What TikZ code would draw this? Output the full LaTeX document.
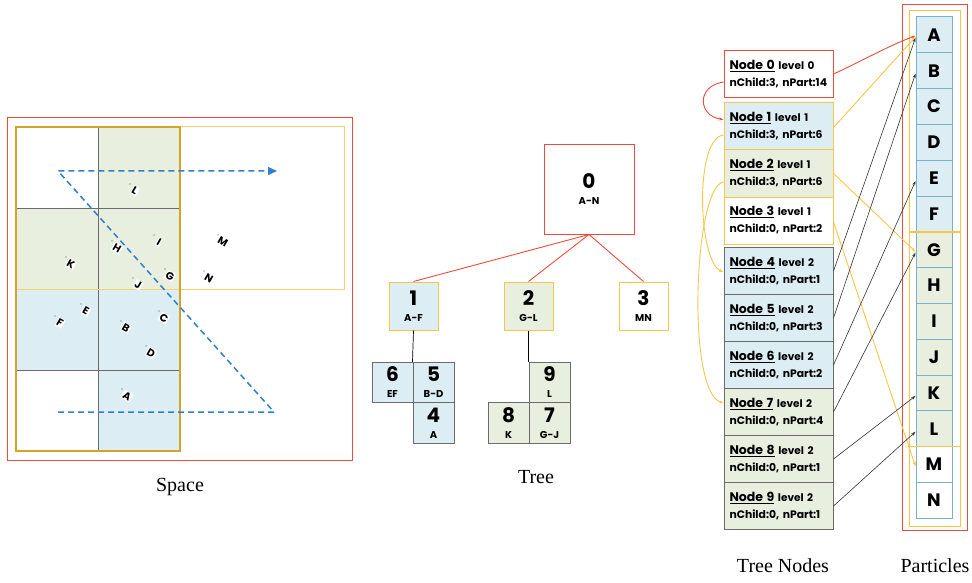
\documentclass[tikz,border=0pt]{standalone}
\usepackage{fontspec}
\newfontfamily\gfont{Poppins}
\newfontfamily\capfont{Liberation Serif}
\usetikzlibrary{arrows.meta}
\definecolor{RedL}{HTML}{EE4B3B}
\definecolor{YelL}{HTML}{F7C548}
\definecolor{GoldD}{HTML}{D4A32A}
\definecolor{BlueF}{HTML}{DCEDF3}
\definecolor{GreenF}{HTML}{E9EFDF}
\definecolor{GreyB}{HTML}{6B6B6B}
\definecolor{TealB}{HTML}{7DB0C2}
\definecolor{DashB}{HTML}{2F80C8}
\newcommand\tnLabel[4]{\mbox{{\fontsize{12.5}{17}\selectfont\underline{Node #1}} {\fontsize{10.5}{17}\selectfont level #2}}\\\mbox{nChild:#3, nPart:#4}}
\newcommand\trLabel[2]{{\fontsize{20}{16}\selectfont #1}\\#2}
\begin{document}
\begin{tikzpicture}[x=1pt,y=-1pt,
  tbox/.style={draw, line width=1pt, inner sep=0pt, align=center,
    font=\gfont\bfseries\fontsize{10}{16}\selectfont},
  tsmall/.style={tbox, draw=GreyB, minimum width=41pt, minimum height=40.5pt},
  nbox/.style={draw, line width=1pt, inner sep=0pt, minimum width=109pt, minimum height=47pt,
    text width=98pt, align=left, font=\gfont\bfseries\fontsize{10.8}{17}\selectfont},
  pbox/.style={draw=TealB, line width=1pt, inner sep=0pt, minimum width=36pt, minimum height=35.8pt,
    font=\gfont\bfseries\fontsize{18}{18}\selectfont},
  sl/.style={fill=white, inner sep=0.8pt, rotate=-30, font=\gfont\bfseries\fontsize{10.5}{10.5}\selectfont},
  captxt/.style={font=\capfont\fontsize{20}{20}\selectfont},
  blkarr/.style={draw=black!80, line width=0.6pt, -{Stealth[length=4.5pt,width=3pt]}},
  yelarr/.style={draw=YelL, line width=0.9pt, -{Stealth[length=4.5pt,width=3pt]}},
  redarr/.style={draw=RedL, line width=0.9pt, -{Stealth[length=4.5pt,width=3pt]}},
]
\useasboundingbox (0,0) rectangle (972,583);

% ---------------- Space ----------------
\fill[GreenF] (98,127) rectangle (180,208);
\fill[GreenF] (16,208) rectangle (180,289);
\fill[BlueF] (16,289) rectangle (180,370);
\fill[BlueF] (98,370) rectangle (180,451);
\draw[GreyB, line width=1pt] (98,127) -- (98,451);
\draw[GreyB, line width=1pt] (16,208) -- (180,208) (16,289) -- (180,289) (16,370) -- (180,370);
\draw[YelL!80, line width=1pt] (16,127) rectangle (344,289);
\draw[GoldD, line width=1.2pt] (16,127) rectangle (180,451);
\draw[RedL, line width=1pt] (7,118) rectangle (352,460);
\draw[DashB, line width=1.5pt, dash pattern=on 6pt off 4pt, -{Triangle[length=9pt,width=8pt]}]
  (58,412) -- (274,412) -- (58,171) -- (277,171);
\foreach \n/\x/\y in {L/135/191, H/117/248, I/159/242, M/223/242, K/71/264, G/170/276,
  N/209/278, J/138/285, E/86/311, F/60/323, C/164/318, B/126/328, D/151/353, A/127/396} {
  \node[sl] (s\n) at (\x,\y) {\n};
  \fill[black!70] (\x-5,\y-7) circle (0.6);
}
\node[captxt] (capS) at (180,487) {Space};

% ---------------- Tree ----------------
\node[tbox, draw=RedL, minimum width=90pt, minimum height=89pt] (t0) at (589,189.5) {\trLabel{0}{A-N}};
\node[tbox, draw=YelL, fill=BlueF, minimum width=49pt, minimum height=48pt] (t1) at (413.5,306) {\trLabel{1}{A-F}};
\node[tbox, draw=YelL, fill=GreenF, minimum width=49pt, minimum height=48pt] (t2) at (528.5,306) {\trLabel{2}{G-L}};
\node[tbox, draw=YelL, fill=white, minimum width=49pt, minimum height=48pt] (t3) at (643.5,306) {\trLabel{3}{MN}};
\node[tsmall, fill=BlueF] (t6) at (392.5,382.5) {\trLabel{6}{EF}};
\node[tsmall, fill=BlueF] (t5) at (433.5,382.5) {\trLabel{5}{B-D}};
\node[tsmall, fill=BlueF] (t4) at (433.5,423) {\trLabel{4}{A}};
\node[tsmall, fill=GreenF] (t9) at (549.5,382.5) {\trLabel{9}{L}};
\node[tsmall, fill=GreenF] (t8) at (508.5,423) {\trLabel{8}{K}};
\node[tsmall, fill=GreenF] (t7) at (549.5,423) {\trLabel{7}{G-J}};
\draw[RedL, line width=0.9pt] (t0.south) -- (t1.north);
\draw[RedL, line width=0.9pt] (t0.south) -- (t2.north);
\draw[RedL, line width=0.9pt] (t0.south) -- (t3.north);
\draw[black, line width=0.7pt] (t1.south) -- (t5.north west);
\draw[black, line width=0.7pt] (t2.south) -- (t9.north west);
\node[captxt] (capT) at (536,477) {Tree};

% ---------------- Tree nodes ----------------
\node[nbox, draw=RedL, fill=white] (n0) at (778.5,74) {\tnLabel{0}{0}{3}{14}};
\node[nbox, draw=YelL, fill=BlueF] (n1) at (778.5,126.5) {\tnLabel{1}{1}{3}{6}};
\node[nbox, draw=YelL, fill=GreenF] (n2) at (778.5,173.5) {\tnLabel{2}{1}{3}{6}};
\node[nbox, draw=YelL, fill=white] (n3) at (778.5,220.5) {\tnLabel{3}{1}{0}{2}};
\node[nbox, draw=GreyB, fill=BlueF] (n4) at (778.5,271) {\tnLabel{4}{2}{0}{1}};
\node[nbox, draw=GreyB, fill=BlueF] (n5) at (778.5,318) {\tnLabel{5}{2}{0}{3}};
\node[nbox, draw=GreyB, fill=BlueF] (n6) at (778.5,365) {\tnLabel{6}{2}{0}{2}};
\node[nbox, draw=GreyB, fill=GreenF] (n7) at (778.5,412) {\tnLabel{7}{2}{0}{4}};
\node[nbox, draw=GreyB, fill=GreenF] (n8) at (778.5,459) {\tnLabel{8}{2}{0}{1}};
\node[nbox, draw=GreyB, fill=GreenF] (n9) at (778.5,506) {\tnLabel{9}{2}{0}{1}};
\node[captxt] (capN) at (783,566) {Tree Nodes};

% ---------------- Particles ----------------
\draw[RedL, line width=1pt] (902,5) rectangle (967,530);
\draw[YelL, line width=1pt] (909,11) rectangle (960,526);
\foreach \n [count=\i] in {A,B,C,D,E,F,G,H,I,J,K,L,M,N} {
  \ifnum\i<7 \def\pf{BlueF}\else\ifnum\i<13 \def\pf{GreenF}\else\def\pf{white}\fi\fi
  \node[pbox, fill=\pf] (p\n) at (934, {17+17.9+35.8*(\i-1)}) {\n};
}
\draw[YelL, line width=1.5pt] (909,231.8) -- (961,231.8);
\draw[YelL, line width=1.5pt] (909,446.6) -- (961,446.6);
\node[captxt] (capP) at (935,566) {Particles};

% ---------------- Connectors ----------------
\draw[redarr] (n0.east) .. controls (860,62) and (890,45) .. ([yshift=-1pt]pA.west);
\draw[redarr] ([yshift=-8pt]n0.west) .. controls (696,86) and (698,116) .. ([yshift=7pt]n1.west);
\draw[yelarr] ([yshift=-1pt]n1.east) -- ([yshift=-2pt]pA.west);
\draw[yelarr] (n2.east) -- ([yshift=-2pt]pG.west);
\draw[yelarr] ([yshift=-1.5pt]n3.east) -- ([yshift=-2pt]pM.west);
\draw[yelarr] ([yshift=-8.5pt]n1.west) .. controls (694,138) and (698,262) .. ([yshift=-1pt]n4.west);
\draw[yelarr] ([yshift=-8.5pt]n2.west) .. controls (694,186) and (686,392) .. ([yshift=9pt]n7.west);
\draw[blkarr] (n4.east) -- ([yshift=-3pt]pA.west);
\draw[blkarr] (n5.east) -- ([yshift=-3pt]pB.west);
\draw[blkarr] (n6.east) -- ([yshift=-3pt]pE.west);
\draw[blkarr] (n7.east) -- ([yshift=-3pt]pG.west);
\draw[blkarr] (n8.east) -- ([yshift=-3pt]pK.west);
\draw[blkarr] (n9.east) -- ([yshift=-3pt]pL.west);
\end{tikzpicture}
\end{document}
